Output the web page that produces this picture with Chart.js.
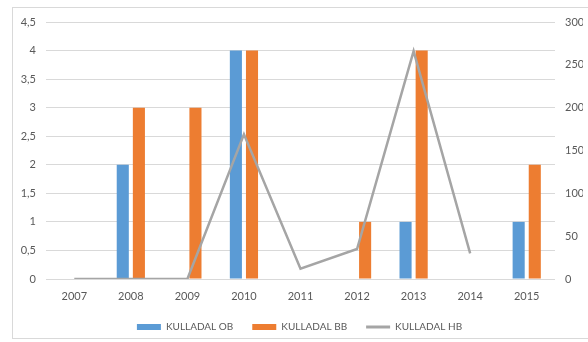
<!DOCTYPE html>
<html>
<head>
<meta charset="utf-8">
<script src="https://cdn.jsdelivr.net/npm/chart.js@4"></script>
<style>
  html, body { margin: 0; padding: 0; background: #fff; overflow: hidden; }
  #frame { position: absolute; left: 12px; top: 7px; width: 576px; height: 332px; border: 1px solid #d9d9d9; border-right: none; box-sizing: border-box; }
  #wrap { position: absolute; left: 0; top: 0; width: 588px; height: 342px; }
</style>
</head>
<body>
<div id="frame"></div>
<div id="wrap"><canvas id="chart" width="588" height="342"></canvas></div>
<script>
// Years on the x axis
const years = ['2007', '2008', '2009', '2010', '2011', '2012', '2013', '2014', '2015'];

// Bar series (left axis)
const obValues = [0, 2, 0, 4, 0, 0, 1, 0, 1];
const bbValues = [0, 3, 3, 4, 0, 1, 4, 0, 2];

// Line series (right axis), no value for 2015
const hbValues = [0, 0, 0, 169, 12, 35, 266, 30, null];

const seriesNames = ['KULLADAL OB', 'KULLADAL BB', 'KULLADAL HB'];

const textColor = '#595959';
const gridColor = '#d9d9d9';
const baseFont = { family: 'Lato, "Open Sans", sans-serif', size: 11 };
const legendFont = { family: 'Lato, "Open Sans", sans-serif', size: 10 };

const ctx = document.getElementById('chart').getContext('2d');
new Chart(ctx, {
    type: 'bar',
    data: {
        labels: years,
        datasets: [
            {
                label: seriesNames[0],
                data: obValues,
                backgroundColor: '#5B9BD5',
                yAxisID: 'y',
                order: 2,
                categoryPercentage: 0.57,
                barPercentage: 0.75
            },
            {
                label: seriesNames[1],
                data: bbValues,
                backgroundColor: '#ED7D31',
                yAxisID: 'y',
                order: 2,
                categoryPercentage: 0.57,
                barPercentage: 0.75
            },
            {
                type: 'line',
                label: seriesNames[2],
                data: hbValues,
                borderColor: '#A5A5A5',
                backgroundColor: '#A5A5A5',
                borderWidth: 2.5,
                pointRadius: 0,
                tension: 0,
                spanGaps: false,
                yAxisID: 'y1',
                order: 1
            }
        ]
    },
    options: {
        responsive: false,
        animation: false,
        layout: { padding: { left: 16, right: 5, top: 22, bottom: 0 } },
        plugins: {
            tooltip: { enabled: false },
            legend: {
                position: 'bottom',
                labels: {
                    color: textColor,
                    font: legendFont,
                    usePointStyle: true,
                    pointStyleWidth: 24,
                    boxHeight: 6,
                    padding: 19,
                    sort: (a, b) => a.datasetIndex - b.datasetIndex,
                    generateLabels: chart => Chart.defaults.plugins.legend.labels.generateLabels(chart).map(item => {
                        if (item.datasetIndex === 2) {
                            item.pointStyle = 'line';
                            item.lineWidth = 3;
                        } else {
                            item.pointStyle = 'rect';
                            item.lineWidth = 0;
                        }
                        return item;
                    })
                }
            }
        },
        scales: {
            x: {
                grid: { display: false, drawTicks: false },
                border: { display: false },
                ticks: { color: textColor, font: baseFont, padding: 11 },
                afterFit: s => { s.height = 24; }
            },
            y: {
                position: 'left',
                min: 0,
                max: 4.5,
                ticks: {
                    stepSize: 0.5,
                    color: textColor,
                    font: baseFont,
                    padding: 10,
                    callback: v => String(v).replace('.', ',')
                },
                grid: { color: gridColor, drawTicks: false },
                border: { display: false },
                afterFit: s => { s.width = 30; }
            },
            y1: {
                position: 'right',
                min: 0,
                max: 300,
                ticks: { stepSize: 50, color: textColor, font: baseFont, padding: 10 },
                grid: { display: false, drawTicks: false },
                border: { display: false },
                afterFit: s => { s.width = 28; }
            }
        }
    }
});
</script>
</body>
</html>
